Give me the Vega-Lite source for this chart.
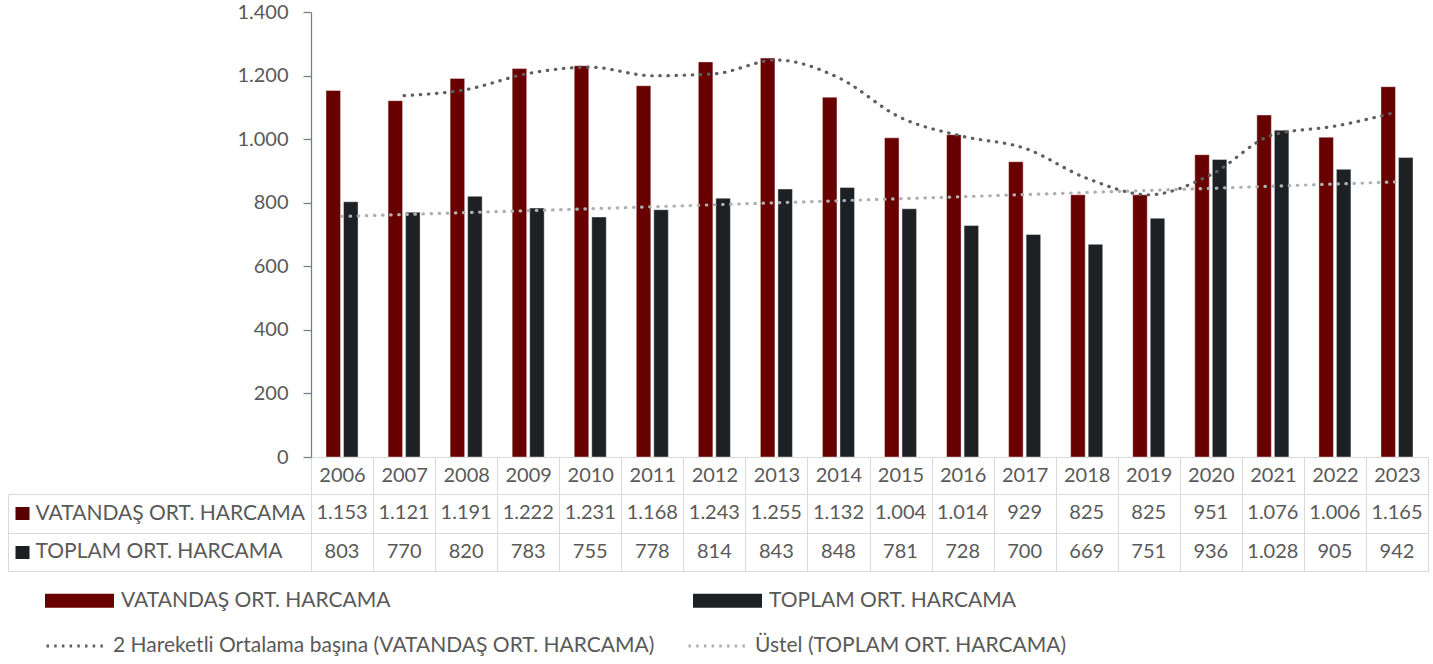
{
  "$schema": "https://vega.github.io/schema/vega-lite/v6.json",
  "padding": {"left": 1, "top": 2, "right": 5, "bottom": 0},
  "background": "white",
  "spacing": -12,
  "config": {
    "font": "Lato",
    "locale": {"number": {"decimal": ",", "thousands": ".", "grouping": [3], "currency": ["", ""]}},
    "axis": {"labelFont": "Lato", "labelFontSize": 20, "labelColor": "#595959"},
    "legend": {"labelFont": "Lato", "labelFontSize": 21, "labelColor": "#595959"},
    "text": {"font": "Lato", "fontSize": 20, "color": "#595959"}
  },
  "datasets": {
    "harcama": [
      {"yil": "2006", "seri": "VATANDAŞ ORT. HARCAMA", "deger": 1153},
      {"yil": "2007", "seri": "VATANDAŞ ORT. HARCAMA", "deger": 1121},
      {"yil": "2008", "seri": "VATANDAŞ ORT. HARCAMA", "deger": 1191},
      {"yil": "2009", "seri": "VATANDAŞ ORT. HARCAMA", "deger": 1222},
      {"yil": "2010", "seri": "VATANDAŞ ORT. HARCAMA", "deger": 1231},
      {"yil": "2011", "seri": "VATANDAŞ ORT. HARCAMA", "deger": 1168},
      {"yil": "2012", "seri": "VATANDAŞ ORT. HARCAMA", "deger": 1243},
      {"yil": "2013", "seri": "VATANDAŞ ORT. HARCAMA", "deger": 1255},
      {"yil": "2014", "seri": "VATANDAŞ ORT. HARCAMA", "deger": 1132},
      {"yil": "2015", "seri": "VATANDAŞ ORT. HARCAMA", "deger": 1004},
      {"yil": "2016", "seri": "VATANDAŞ ORT. HARCAMA", "deger": 1014},
      {"yil": "2017", "seri": "VATANDAŞ ORT. HARCAMA", "deger": 929},
      {"yil": "2018", "seri": "VATANDAŞ ORT. HARCAMA", "deger": 825},
      {"yil": "2019", "seri": "VATANDAŞ ORT. HARCAMA", "deger": 825},
      {"yil": "2020", "seri": "VATANDAŞ ORT. HARCAMA", "deger": 951},
      {"yil": "2021", "seri": "VATANDAŞ ORT. HARCAMA", "deger": 1076},
      {"yil": "2022", "seri": "VATANDAŞ ORT. HARCAMA", "deger": 1006},
      {"yil": "2023", "seri": "VATANDAŞ ORT. HARCAMA", "deger": 1165},
      {"yil": "2006", "seri": "TOPLAM ORT. HARCAMA", "deger": 803},
      {"yil": "2007", "seri": "TOPLAM ORT. HARCAMA", "deger": 770},
      {"yil": "2008", "seri": "TOPLAM ORT. HARCAMA", "deger": 820},
      {"yil": "2009", "seri": "TOPLAM ORT. HARCAMA", "deger": 783},
      {"yil": "2010", "seri": "TOPLAM ORT. HARCAMA", "deger": 755},
      {"yil": "2011", "seri": "TOPLAM ORT. HARCAMA", "deger": 778},
      {"yil": "2012", "seri": "TOPLAM ORT. HARCAMA", "deger": 814},
      {"yil": "2013", "seri": "TOPLAM ORT. HARCAMA", "deger": 843},
      {"yil": "2014", "seri": "TOPLAM ORT. HARCAMA", "deger": 848},
      {"yil": "2015", "seri": "TOPLAM ORT. HARCAMA", "deger": 781},
      {"yil": "2016", "seri": "TOPLAM ORT. HARCAMA", "deger": 728},
      {"yil": "2017", "seri": "TOPLAM ORT. HARCAMA", "deger": 700},
      {"yil": "2018", "seri": "TOPLAM ORT. HARCAMA", "deger": 669},
      {"yil": "2019", "seri": "TOPLAM ORT. HARCAMA", "deger": 751},
      {"yil": "2020", "seri": "TOPLAM ORT. HARCAMA", "deger": 936},
      {"yil": "2021", "seri": "TOPLAM ORT. HARCAMA", "deger": 1028},
      {"yil": "2022", "seri": "TOPLAM ORT. HARCAMA", "deger": 905},
      {"yil": "2023", "seri": "TOPLAM ORT. HARCAMA", "deger": 942}
    ],
    "trend": [
      {"yil": "2007", "seri": "2 Hareketli Ortalama başına (VATANDAŞ ORT. HARCAMA)", "deger": 1137},
      {"yil": "2008", "seri": "2 Hareketli Ortalama başına (VATANDAŞ ORT. HARCAMA)", "deger": 1156},
      {"yil": "2009", "seri": "2 Hareketli Ortalama başına (VATANDAŞ ORT. HARCAMA)", "deger": 1206.5},
      {"yil": "2010", "seri": "2 Hareketli Ortalama başına (VATANDAŞ ORT. HARCAMA)", "deger": 1226.5},
      {"yil": "2011", "seri": "2 Hareketli Ortalama başına (VATANDAŞ ORT. HARCAMA)", "deger": 1199.5},
      {"yil": "2012", "seri": "2 Hareketli Ortalama başına (VATANDAŞ ORT. HARCAMA)", "deger": 1205.5},
      {"yil": "2013", "seri": "2 Hareketli Ortalama başına (VATANDAŞ ORT. HARCAMA)", "deger": 1249},
      {"yil": "2014", "seri": "2 Hareketli Ortalama başına (VATANDAŞ ORT. HARCAMA)", "deger": 1193.5},
      {"yil": "2015", "seri": "2 Hareketli Ortalama başına (VATANDAŞ ORT. HARCAMA)", "deger": 1068},
      {"yil": "2016", "seri": "2 Hareketli Ortalama başına (VATANDAŞ ORT. HARCAMA)", "deger": 1009},
      {"yil": "2017", "seri": "2 Hareketli Ortalama başına (VATANDAŞ ORT. HARCAMA)", "deger": 971.5},
      {"yil": "2018", "seri": "2 Hareketli Ortalama başına (VATANDAŞ ORT. HARCAMA)", "deger": 877},
      {"yil": "2019", "seri": "2 Hareketli Ortalama başına (VATANDAŞ ORT. HARCAMA)", "deger": 825},
      {"yil": "2020", "seri": "2 Hareketli Ortalama başına (VATANDAŞ ORT. HARCAMA)", "deger": 888},
      {"yil": "2021", "seri": "2 Hareketli Ortalama başına (VATANDAŞ ORT. HARCAMA)", "deger": 1013.5},
      {"yil": "2022", "seri": "2 Hareketli Ortalama başına (VATANDAŞ ORT. HARCAMA)", "deger": 1041},
      {"yil": "2023", "seri": "2 Hareketli Ortalama başına (VATANDAŞ ORT. HARCAMA)", "deger": 1085.5},
      {"yil": "2006", "seri": "Üstel (TOPLAM ORT. HARCAMA)", "deger": 756.9},
      {"yil": "2007", "seri": "Üstel (TOPLAM ORT. HARCAMA)", "deger": 762.9},
      {"yil": "2008", "seri": "Üstel (TOPLAM ORT. HARCAMA)", "deger": 769.0},
      {"yil": "2009", "seri": "Üstel (TOPLAM ORT. HARCAMA)", "deger": 775.1},
      {"yil": "2010", "seri": "Üstel (TOPLAM ORT. HARCAMA)", "deger": 781.2},
      {"yil": "2011", "seri": "Üstel (TOPLAM ORT. HARCAMA)", "deger": 787.4},
      {"yil": "2012", "seri": "Üstel (TOPLAM ORT. HARCAMA)", "deger": 793.6},
      {"yil": "2013", "seri": "Üstel (TOPLAM ORT. HARCAMA)", "deger": 799.9},
      {"yil": "2014", "seri": "Üstel (TOPLAM ORT. HARCAMA)", "deger": 806.3},
      {"yil": "2015", "seri": "Üstel (TOPLAM ORT. HARCAMA)", "deger": 812.7},
      {"yil": "2016", "seri": "Üstel (TOPLAM ORT. HARCAMA)", "deger": 819.1},
      {"yil": "2017", "seri": "Üstel (TOPLAM ORT. HARCAMA)", "deger": 825.6},
      {"yil": "2018", "seri": "Üstel (TOPLAM ORT. HARCAMA)", "deger": 832.2},
      {"yil": "2019", "seri": "Üstel (TOPLAM ORT. HARCAMA)", "deger": 838.8},
      {"yil": "2020", "seri": "Üstel (TOPLAM ORT. HARCAMA)", "deger": 845.4},
      {"yil": "2021", "seri": "Üstel (TOPLAM ORT. HARCAMA)", "deger": 852.1},
      {"yil": "2022", "seri": "Üstel (TOPLAM ORT. HARCAMA)", "deger": 858.9},
      {"yil": "2023", "seri": "Üstel (TOPLAM ORT. HARCAMA)", "deger": 865.7}
    ]
  },
  "resolve": {"scale": {"x": "independent"}},
  "vconcat": [
    {
      "width": 1117,
      "height": 445,
      "view": {"stroke": null},
      "layer": [
        {
          "data": {"name": "harcama"},
          "mark": {"type": "bar", "stroke": "#ffffff", "strokeWidth": 0.8, "strokeOpacity": 0.5},
          "encoding": {
            "x": {
              "field": "yil", "type": "ordinal", "title": null,
              "scale": {"paddingInner": 0, "paddingOuter": 0},
              "axis": {
                "title": null, "orient": "bottom", "labelAngle": 0, "domainColor": "#d9d9d9", "tickColor": "#d9d9d9",
                "tickBand": "extent", "tickSize": 36, "labelPadding": -18, "labelBaseline": "middle"
              }
            },
            "xOffset": {
              "field": "seri",
              "scale": {"domain": ["VATANDAŞ ORT. HARCAMA", "TOPLAM ORT. HARCAMA"], "paddingInner": 0.171, "paddingOuter": 0.857}
            },
            "y": {
              "field": "deger", "type": "quantitative", "title": null,
              "scale": {"domain": [0, 1400], "nice": false},
              "axis": {
                "title": null, "values": [0, 200, 400, 600, 800, 1000, 1200, 1400], "format": ",d", "grid": false,
                "domainColor": "#6e7f8f", "domainWidth": 1.25, "tickColor": "#6e7f8f", "tickWidth": 1.25,
                "tickSize": 8, "labelPadding": 15
              }
            },
            "fill": {
              "field": "seri",
              "scale": {"domain": ["VATANDAŞ ORT. HARCAMA", "TOPLAM ORT. HARCAMA"], "range": ["#690000", "#1d2124"]},
              "legend": {
                "title": null, "orient": "none", "legendX": -266, "legendY": 554, "direction": "horizontal",
                "columns": 2, "columnPadding": 302, "padding": 0,
                "symbolType": "M-1,-0.203H1V0.203H-1Z", "symbolSize": 4761, "symbolStrokeWidth": 0,
                "labelOffset": 7, "labelLimit": 700
              }
            }
          }
        },
        {
          "data": {"name": "trend"},
          "mark": {"type": "line", "strokeWidth": 3.2, "strokeDash": [0.5, 7.6], "strokeCap": "round", "interpolate": "monotone"},
          "encoding": {
            "x": {"field": "yil", "type": "ordinal"},
            "y": {"field": "deger", "type": "quantitative"},
            "stroke": {
              "field": "seri",
              "scale": {
                "domain": ["2 Hareketli Ortalama başına (VATANDAŞ ORT. HARCAMA)", "Üstel (TOPLAM ORT. HARCAMA)"],
                "range": ["#5f5f5f", "#b0b0b0"]
              },
              "legend": {
                "title": null, "orient": "none", "legendX": -266, "legendY": 603, "direction": "horizontal",
                "columns": 2, "columnPadding": 27, "padding": 0,
                "symbolType": "stroke", "symbolSize": 3481, "symbolStrokeWidth": 3, "symbolDash": [2.5, 5.2],
                "labelOffset": 6, "labelLimit": 800
              }
            }
          }
        }
      ]
    },
    {
      "width": 1117,
      "height": 77,
      "view": {"stroke": "#d9d9d9"},
      "encoding": {
        "x": {
          "field": "yil", "type": "ordinal", "title": null,
          "scale": {"paddingInner": 0, "paddingOuter": 0},
          "axis": {"title": null, "grid": true, "gridColor": "#d9d9d9", "tickBand": "extent", "labels": false, "ticks": false, "domain": false}
        },
        "text": {"field": "deger", "type": "quantitative", "format": ",d"}
      },
      "layer": [
        {
          "data": {"name": "harcama"},
          "transform": [{"filter": "datum.seri === 'VATANDAŞ ORT. HARCAMA'"}],
          "mark": {"type": "text", "align": "center", "baseline": "middle"},
          "encoding": {
            "y": {
              "field": "seri", "type": "nominal", "title": null,
              "scale": {"domain": ["VATANDAŞ ORT. HARCAMA", "TOPLAM ORT. HARCAMA"]},
              "axis": {
                "title": null, "orient": "left", "domainColor": "#d9d9d9", "tickColor": "#d9d9d9", "tickBand": "extent",
                "tickSize": 303, "grid": true, "gridColor": "#d9d9d9", "labelFontSize": 21,
                "labelAlign": "left", "labelBaseline": "middle", "labelPadding": -27, "labelLimit": 400
              }
            }
          }
        },
        {
          "data": {"name": "harcama"},
          "transform": [{"filter": "datum.seri === 'TOPLAM ORT. HARCAMA'"}],
          "mark": {"type": "text", "align": "center", "baseline": "middle"},
          "encoding": {
            "y": {
              "field": "seri", "type": "nominal", "title": null,
              "scale": {"domain": ["VATANDAŞ ORT. HARCAMA", "TOPLAM ORT. HARCAMA"]},
              "axis": {
                "title": null, "orient": "left", "offset": 303, "domainColor": "#d9d9d9", "labels": false, "grid": false,
                "tickSize": -21, "tickWidth": 13, "tickDash": [0, 7, 14, 200],
                "tickColor": {"condition": {"test": "datum.value === 'VATANDAŞ ORT. HARCAMA'", "value": "#560000"}, "value": "#1b1e21"}
              }
            }
          }
        }
      ],
      "resolve": {"scale": {"y": "independent"}}
    }
  ]
}
